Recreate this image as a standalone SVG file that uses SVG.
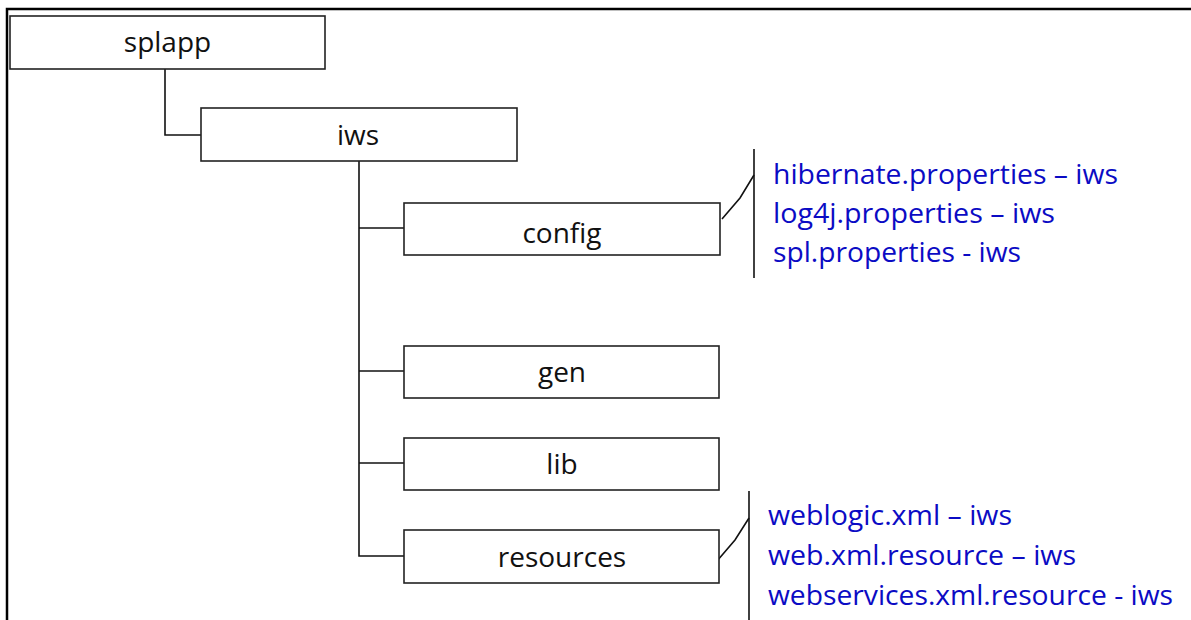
<svg xmlns="http://www.w3.org/2000/svg" width="1191" height="620" viewBox="0 0 1191 620">
<style>
.box{fill:#fff;stroke:#222;stroke-width:1.6}
.lbl{font-family:"Open Sans","Noto Sans",sans-serif;font-size:28px;fill:#111;text-anchor:middle}
.file{font-family:"Open Sans","Noto Sans",sans-serif;font-size:27px;fill:#0b0bc4}
.con{fill:none;stroke:#111;stroke-width:1.6}
</style>
<rect width="1191" height="620" fill="#fff"/>
<path d="M7 620 V9 H1191" fill="none" stroke="#000" stroke-width="2.5"/>
<g id="connectors">
<path class="con" d="M165 69 V135 H201"/>
<path class="con" d="M359 161 V556 H404" stroke-width="2"/>
<path class="con" d="M359 228 H404"/>
<path class="con" d="M359 371 H404"/>
<path class="con" d="M359 463 H404"/>
<path class="con" d="M754 149 V278"/>
<path class="con" d="M722 219 L740 198 L754 175"/>
<path class="con" d="M749 491 V620"/>
<path class="con" d="M717 561 L735 540 L749 518"/>
</g>
<g id="splapp"><rect class="box" x="10" y="16" width="315" height="53"/><text class="lbl" x="167.5" y="52">splapp</text></g>
<g id="iws"><rect class="box" x="201" y="108" width="316" height="53"/><text class="lbl" x="358" y="145">iws</text></g>
<g id="config"><rect class="box" x="404" y="203" width="316" height="52"/><text class="lbl" x="562" y="243">config</text></g>
<g id="gen"><rect class="box" x="404" y="346" width="315" height="52"/><text class="lbl" x="562" y="382">gen</text></g>
<g id="lib"><rect class="box" x="404" y="438" width="315" height="52"/><text class="lbl" x="562" y="474">lib</text></g>
<g id="resources"><rect class="box" x="404" y="530" width="315" height="53"/><text class="lbl" x="562" y="567">resources</text></g>
<g id="config-files">
<text class="file" x="773" y="184" textLength="345" lengthAdjust="spacingAndGlyphs">hibernate.properties – iws</text>
<text class="file" x="773" y="223" textLength="282" lengthAdjust="spacingAndGlyphs">log4j.properties – iws</text>
<text class="file" x="773" y="262" textLength="248" lengthAdjust="spacingAndGlyphs">spl.properties - iws</text>
</g>
<g id="resources-files">
<text class="file" x="768" y="525" textLength="244" lengthAdjust="spacingAndGlyphs">weblogic.xml – iws</text>
<text class="file" x="768" y="565" textLength="308" lengthAdjust="spacingAndGlyphs">web.xml.resource – iws</text>
<text class="file" x="768" y="605" textLength="405" lengthAdjust="spacingAndGlyphs">webservices.xml.resource - iws</text>
</g>
</svg>
